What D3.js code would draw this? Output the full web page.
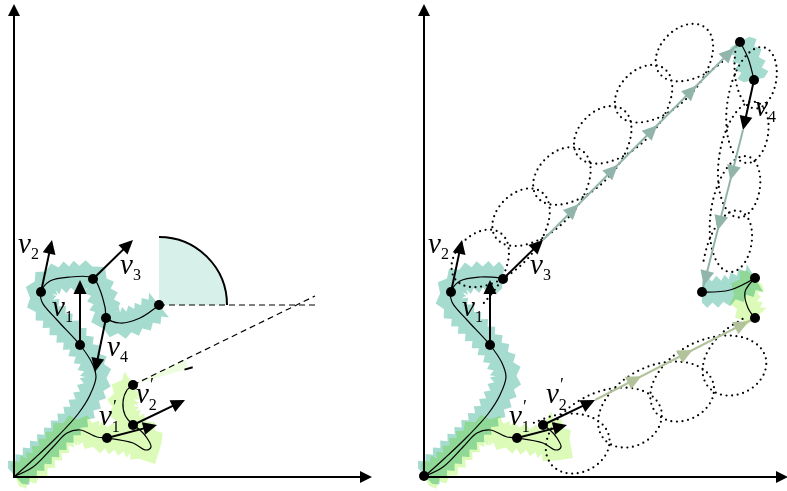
<!DOCTYPE html>
<html>
<head>
<meta charset="utf-8">
<script src="https://cdn.jsdelivr.net/npm/d3@7"></script>
<style>
  body { margin: 0; background: #fff; }
  text { font-family: 'Liberation Serif', serif; font-style: italic; }
</style>
</head>
<body>
<div id="viz"></div>
<script>
const width = 787;
const height = 491;
const colorTeal = '#a6dccf';
const colorGreen = '#dcfbb9';
const colorTealWedge = '#d8f0ea';
const colorGreenWedge = '#eefce0';
const colorTopLine = '#92b5ab';
const colorBottomLine = '#b2c39c';

// scene units: x to the right, y up, from the origin of each panel
const tealPath = [[1,0],[21,18],[44,40],[64,62],[76,81],[82,99],[78,113],[66,131],[43,156],[28,174],[27,184],[36,195],[56,199],[79,198],[86,186],[91,169],[93,158],[106,153],[126,158],[145,171]];
const greenPath = [[1,0],[19,9],[39,29],[53,43],[66,46],[83,39],[93,38],[119,33],[132,26],[137,29],[133,38],[126,46],[119,51],[111,61],[109,74],[113,86],[119,91]];
const tealRightCut = 14;   // origin .. v3
const greenRightCut = 13;  // origin .. v2'
const topTeal = [[316,434],[324,418],[330,396]];
const cornerTeal = [[278,184],[306,186],[331,198]];
const cornerGreen = [[331,198],[321,184],[324,168],[331,158]];

const dotsLeft = [[66,131],[27,184],[79,197],[92,158],[145,171],[119,91],[119,51],[93,38]];
const dotsRight = [[0,0],[66,131],[27,184],[79,197],[93,38],[119,51],[316,434],[330,396],[278,184],[331,198],[331,158]];

const vectorsLeft = [
  {from:[66,131], to:[66,196]},
  {from:[27,184], to:[38,236]},
  {from:[79,197], to:[119,236]},
  {from:[92,158], to:[81,104]},
  {from:[93,38], to:[143,51]},
  {from:[119,51], to:[171,76]}
];
const vectorsRight = [
  {from:[66,131], to:[66,196]},
  {from:[27,184], to:[38,236]},
  {from:[79,197], to:[119,236]},
  {from:[93,38], to:[143,51]},
  {from:[119,51], to:[171,76]},
  {from:[330,396], to:[319,346]}
];

// translations drawn in the right panel
const moves = [
  {from:[119,236], to:[316,434], color: colorTopLine, heads:[0.18,0.38,0.58,0.78,0.97]},
  {from:[319,346], to:[278,184], color: colorTopLine, heads:[0.31,0.62,0.96]},
  {from:[171,76], to:[331,158], color: colorBottomLine, heads:[0.29,0.61,0.96]}
];

// dotted looping paths: start, end, number of loops, side, loop size
const loopRuns = [
  {from:[57,176], to:[302,423], n:6, side: 1, size:0.64},
  {from:[315,429], to:[282,211], n:4, side: 1, size:0.5},
  {from:[112,49], to:[321,153], n:4, side:-1, size:0.74}
];
// one loop, u along the run (fraction of period), v across (px)
const loopShape = [[0,-6.4],[0.367,-3],[0.688,6.8],[0.923,21.4],[1.046,38.6],[1.048,55.8],[0.938,70.4],[0.742,80.2],[0.5,83.6],[0.258,80.2],[0.062,70.4],[-0.048,55.8],[-0.046,38.6],[0.077,21.4],[0.312,6.8],[0.633,-3],[1,-6.4]];

// angles in degrees
const dashEnd = 301;
const slopeLine = [[119,91],[301,180]];
const angleTeal = 90;
const angleGreen = 9.5;

const labelsLeft = [
  {sub:'2', prime:false, at:[4,223]},
  {sub:'3', prime:false, at:[106,202]},
  {sub:'1', prime:false, at:[38,160]},
  {sub:'4', prime:false, at:[93,120]},
  {sub:'2', prime:true, at:[122,73]},
  {sub:'1', prime:true, at:[85,51]}
];
const labelsRight = [
  {sub:'2', prime:false, at:[4,223]},
  {sub:'3', prime:false, at:[106,202]},
  {sub:'1', prime:false, at:[38,160]},
  {sub:'4', prime:false, at:[331,360]},
  {sub:'2', prime:true, at:[122,73]},
  {sub:'1', prime:true, at:[85,51]}
];

const xLeft = d3.scaleLinear().domain([0, 360]).range([14, 374]);
const xRight = d3.scaleLinear().domain([0, 360]).range([424, 784]);
const y = d3.scaleLinear().domain([0, 476]).range([476, 0]);

const svg = d3.select('#viz').append('svg')
  .attr('width', width).attr('height', height)
  .attr('viewBox', [0, 0, width, height]);

function arrowHead(g, tip, ang, len, half, color) {
  g.append('path')
    .attr('d', `M0,0L${-len},${-half}L${-len},${half}Z`)
    .attr('transform', `translate(${tip[0]},${tip[1]}) rotate(${ang * 180 / Math.PI})`)
    .attr('fill', color);
}

function arrow(g, p0, p1, color, w, len, half) {
  const ang = Math.atan2(p1[1] - p0[1], p1[0] - p0[0]);
  const back = len * 0.6;
  g.append('line')
    .attr('x1', p0[0]).attr('y1', p0[1])
    .attr('x2', p1[0] - Math.cos(ang) * back).attr('y2', p1[1] - Math.sin(ang) * back)
    .attr('stroke', color).attr('stroke-width', w);
  arrowHead(g, p1, ang, len, half, color);
}

// jagged band round a path
function bandPolygon(node, inner, outer, step) {
  const L = node.getTotalLength();
  const n = Math.max(2, Math.round(L / step));
  const a = [], b = [];
  for (let i = 0; i <= n; i++) {
    const s = L * i / n;
    const p = node.getPointAtLength(s);
    const q1 = node.getPointAtLength(Math.min(L, s + 0.6));
    const q0 = node.getPointAtLength(Math.max(0, s - 0.6));
    const dx = q1.x - q0.x, dy = q1.y - q0.y;
    const len = Math.hypot(dx, dy) || 1;
    const nx = -dy / len, ny = dx / len;
    const w = i % 2 ? outer : inner;
    a.push([p.x + nx * w, p.y + ny * w]);
    b.push([p.x - nx * w, p.y - ny * w]);
  }
  return a.concat(b.reverse());
}

function drawPanel(x, spec) {
  const g = svg.append('g');
  const line = d3.line().x(d => x(d[0])).y(d => y(d[1])).curve(d3.curveCatmullRom.alpha(0.5));
  const P = d => [x(d[0]), y(d[1])];

  const hidden = g.append('g').attr('visibility', 'hidden');
  const bands = g.append('g');
  spec.bands.forEach(b => {
    const node = hidden.append('path').attr('d', line(b.pts)).node();
    bands.append('path')
      .attr('d', 'M' + bandPolygon(node, 10.5, 16, 5).join('L') + 'Z')
      .attr('fill', b.color)
      .style('mix-blend-mode', 'multiply');
  });

  if (spec.angles) {
    const end = P(tealPath[tealPath.length - 1]);
    const r1 = x(68) - x(0);
    const tealArc = d3.arc().innerRadius(0).outerRadius(r1)
      .startAngle(0).endAngle(angleTeal * Math.PI / 180);
    const tealLine = d3.arc().innerRadius(r1).outerRadius(r1)
      .startAngle(0).endAngle(angleTeal * Math.PI / 180);
    g.append('path').attr('d', tealArc()).attr('transform', `translate(${end})`).attr('fill', colorTealWedge);
    g.append('path').attr('d', tealLine()).attr('transform', `translate(${end})`)
      .attr('fill', 'none').attr('stroke', '#000').attr('stroke-width', 2);

    const c = P(slopeLine[0]), e = P(slopeLine[1]);
    const dirAng = Math.atan2(-(e[1] - c[1]), e[0] - c[0]); // counter-clockwise from +x
    const a1 = Math.PI / 2 - dirAng;
    const a2 = a1 + angleGreen * Math.PI / 180;
    const r2 = x(58) - x(0);
    g.append('path').attr('d', d3.arc().innerRadius(0).outerRadius(r2).startAngle(a1).endAngle(a2)())
      .attr('transform', `translate(${c})`).attr('fill', colorGreenWedge);
    g.append('path').attr('d', d3.arc().innerRadius(r2 - 3.5).outerRadius(r2 + 3.5).startAngle(a2 - 0.002).endAngle(a2 + 0.002)())
      .attr('transform', `translate(${c})`).attr('fill', 'none').attr('stroke', '#000').attr('stroke-width', 1.6);

    g.append('line').attr('x1', end[0]).attr('y1', end[1]).attr('x2', x(dashEnd)).attr('y2', end[1])
      .attr('stroke', '#000').attr('stroke-width', 1.2).attr('stroke-dasharray', '6,4');
    g.append('line').attr('x1', c[0]).attr('y1', c[1]).attr('x2', e[0]).attr('y2', e[1])
      .attr('stroke', '#000').attr('stroke-width', 1.2).attr('stroke-dasharray', '6,4');
  }

  spec.curves.forEach(pts => {
    g.append('path').attr('d', line(pts)).attr('fill', 'none')
      .attr('stroke', '#000').attr('stroke-width', 1.2);
  });

  (spec.loops || []).forEach(run => {
    const s = P(run.from), t = P(run.to);
    const dx = t[0] - s[0], dy = t[1] - s[1];
    const L = Math.hypot(dx, dy), per = L / run.n;
    const ux = dx / L, uy = dy / L;
    const nx = uy * run.side, ny = -ux * run.side;
    const pts = [];
    for (let k = 0; k < run.n; k++) {
      loopShape.forEach((d, i) => {
        if (k > 0 && i === 0) return;
        const along = (k + d[0]) * per, across = d[1] * run.size;
        pts.push([s[0] + ux * along + nx * across, s[1] + uy * along + ny * across]);
      });
    }
    g.append('path')
      .attr('d', d3.line().curve(d3.curveCatmullRom.alpha(0.5))(pts))
      .attr('fill', 'none').attr('stroke', '#000').attr('stroke-width', 2.2)
      .attr('stroke-linecap', 'round').attr('stroke-dasharray', '0,5.6');
  });

  (spec.moves || []).forEach(m => {
    const s = P(m.from), t = P(m.to);
    g.append('line').attr('x1', s[0]).attr('y1', s[1]).attr('x2', t[0]).attr('y2', t[1])
      .attr('stroke', m.color).attr('stroke-width', 2);
    const ang = Math.atan2(t[1] - s[1], t[0] - s[0]);
    m.heads.forEach(f => {
      arrowHead(g, [s[0] + (t[0] - s[0]) * f, s[1] + (t[1] - s[1]) * f], ang, 15, 7, m.color);
    });
  });

  spec.vectors.forEach(v => arrow(g, P(v.from), P(v.to), '#000', 2, 14, 6.5));

  g.selectAll('circle.dot').data(spec.dots).join('circle')
    .attr('class', 'dot')
    .attr('cx', d => x(d[0])).attr('cy', d => y(d[1])).attr('r', 5)
    .attr('fill', '#000');

  spec.labels.forEach(l => {
    const p = P(l.at);
    const t = g.append('text').attr('x', p[0]).attr('y', p[1]).attr('font-size', 29);
    t.append('tspan').text('v');
    if (l.prime) {
      t.append('tspan').attr('font-size', 18).attr('dx', 1).attr('dy', -12).style('font-style', 'normal').text('′');
      t.append('tspan').attr('font-size', 16).attr('dx', -5).attr('dy', 19).style('font-style', 'normal').text(l.sub);
    } else {
      t.append('tspan').attr('font-size', 16).attr('dx', 0).attr('dy', 6).style('font-style', 'normal').text(l.sub);
    }
  });

  // axes
  const ax = g.append('g');
  const ox = x(0), oy = y(-1);
  ax.append('line').attr('x1', ox).attr('y1', oy).attr('x2', ox).attr('y2', 14)
    .attr('stroke', '#000').attr('stroke-width', 2);
  arrowHead(ax, [ox, 4], -Math.PI / 2, 12, 6, '#000');
  ax.append('line').attr('x1', ox - 1).attr('y1', oy).attr('x2', x(spec.axisEnd) - 10).attr('y2', oy)
    .attr('stroke', '#000').attr('stroke-width', 2);
  arrowHead(ax, [x(spec.axisEnd), oy], 0, 12, 6, '#000');
}

drawPanel(xLeft, {
  bands: [{pts: tealPath, color: colorTeal}, {pts: greenPath, color: colorGreen}],
  curves: [tealPath, greenPath],
  angles: true,
  vectors: vectorsLeft,
  dots: dotsLeft,
  labels: labelsLeft,
  axisEnd: 358
});

drawPanel(xRight, {
  bands: [
    {pts: tealPath.slice(0, tealRightCut), color: colorTeal},
    {pts: topTeal, color: colorTeal},
    {pts: cornerTeal, color: colorTeal},
    {pts: greenPath.slice(0, greenRightCut), color: colorGreen},
    {pts: cornerGreen, color: colorGreen}
  ],
  curves: [tealPath.slice(0, tealRightCut), greenPath.slice(0, greenRightCut), topTeal, cornerTeal, cornerGreen],
  loops: loopRuns,
  moves: moves,
  vectors: vectorsRight,
  dots: dotsRight,
  labels: labelsRight,
  axisEnd: 364
});
</script>
</body>
</html>
